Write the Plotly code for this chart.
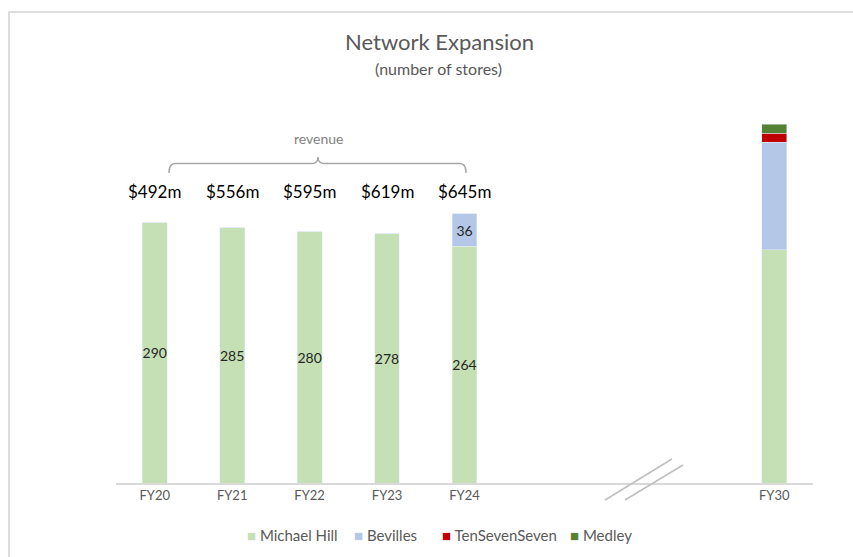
import plotly.graph_objects as go

categories = ["FY20", "FY21", "FY22", "FY23", "FY24", "FY30"]
axis_order = ["FY20", "FY21", "FY22", "FY23", "FY24", " ", "  ", "   ", "FY30"]
michael_hill = [290, 285, 280, 278, 264, 260]
bevilles = [0, 0, 0, 0, 36, 120]
tensevenseven = [0, 0, 0, 0, 0, 10]
medley = [0, 0, 0, 0, 0, 10]
mh_labels = ["290", "285", "280", "278", "264", ""]
bev_labels = ["", "", "", "", "36", ""]
revenue_years = ["FY20", "FY21", "FY22", "FY23", "FY24"]
revenue = ["$492m", "$556m", "$595m", "$619m", "$645m"]
series_names = ["Michael Hill", "Bevilles", "TenSevenSeven", "Medley"]
series_colors = ["#C5E0B4", "#B4C7E7", "#C00000", "#548235"]

FONT = "Lato"


def px(x):
    return (x - 116) / 697


def py(y):
    return (483 - y) / 383


fig = go.Figure()
series_values = [michael_hill, bevilles, tensevenseven, medley]
series_text = [mh_labels, bev_labels, None, None]
for name, color, vals, txt in zip(series_names, series_colors, series_values, series_text):
    kw = {}
    if txt is not None:
        kw = dict(text=txt, textposition="inside", insidetextanchor="middle", textangle=0,
                  constraintext="none",
                  textfont=dict(color="#262626", size=14, family=FONT))
    fig.add_trace(go.Bar(x=categories, y=vals, name=name, marker_color=color, width=0.32,
                         showlegend=False, **kw))

ann = []
for yr, rv in zip(revenue_years, revenue):
    ann.append(dict(x=yr, xref="x", y=py(191), yref="paper", text=rv, showarrow=False,
                    font=dict(size=17, color="#000000", family=FONT), xanchor="center", yanchor="middle"))
ann.append(dict(x=px(318), xref="paper", y=py(138), yref="paper", text="revenue",
                showarrow=False, xanchor="center", yanchor="middle",
                font=dict(size=14, color="#7F7F7F", family=FONT)))
ann.append(dict(x=px(439), xref="paper", y=py(41), yref="paper", text="Network Expansion",
                showarrow=False, xanchor="center", yanchor="middle",
                font=dict(size=22, color="#595959", family=FONT)))
ann.append(dict(x=px(438), xref="paper", y=py(68), yref="paper", text="(number of stores)",
                showarrow=False, xanchor="center", yanchor="middle",
                font=dict(size=16, color="#595959", family=FONT)))

legend_x = [245, 352, 440, 568]
for name, color, lx in zip(series_names, series_colors, legend_x):
    ann.append(dict(x=px(lx), xref="paper", y=py(535), yref="paper",
                    text=f"<span style='color:{color}'>■</span> {name}",
                    showarrow=False, xanchor="left", yanchor="middle",
                    font=dict(size=15, color="#595959", family=FONT)))

shapes = []
shapes.append(dict(type="rect", xref="paper", yref="paper", x0=px(9), x1=px(900), y0=py(600), y1=py(12),
                   line=dict(color="#DDDDDD", width=2), fillcolor="rgba(0,0,0,0)", layer="below"))
brace = (f"M {px(169)},{py(173)} Q {px(169)},{py(163.5)} {px(175)},{py(163.5)} "
         f"L {px(312)},{py(163.5)} Q {px(318)},{py(163.5)} {px(318)},{py(157)} "
         f"Q {px(318)},{py(163.5)} {px(324)},{py(163.5)} L {px(460)},{py(163.5)} "
         f"Q {px(466)},{py(163.5)} {px(466)},{py(173)}")
shapes.append(dict(type="path", xref="paper", yref="paper", path=brace, line=dict(color="#A6A6A6", width=1.5)))
shapes.append(dict(type="line", xref="paper", yref="paper", x0=px(605), y0=py(500), x1=px(672), y1=py(459),
                   line=dict(color="#BFBFBF", width=1.5)))
shapes.append(dict(type="line", xref="paper", yref="paper", x0=px(625), y0=py(500), x1=px(683), y1=py(465),
                   line=dict(color="#BFBFBF", width=1.5)))

fig.update_layout(
    barmode="stack",
    width=853, height=557,
    margin=dict(l=116, r=40, t=100, b=74),
    plot_bgcolor="white", paper_bgcolor="white",
    font=dict(family=FONT, color="#595959"),
    xaxis=dict(type="category", categoryorder="array", categoryarray=axis_order,
               range=[-0.5, 8.5], showline=True, linecolor="#D9D9D9", linewidth=1.5,
               ticks="", tickfont=dict(size=13, color="#595959"), showgrid=False, fixedrange=True),
    yaxis=dict(range=[0, 427], visible=False, showgrid=False, fixedrange=True),
    showlegend=False,
    annotations=ann,
    shapes=shapes,
)
fig.write_html("out.html", config={"displayModeBar": False},
               post_script="document.body.style.margin='0';")
